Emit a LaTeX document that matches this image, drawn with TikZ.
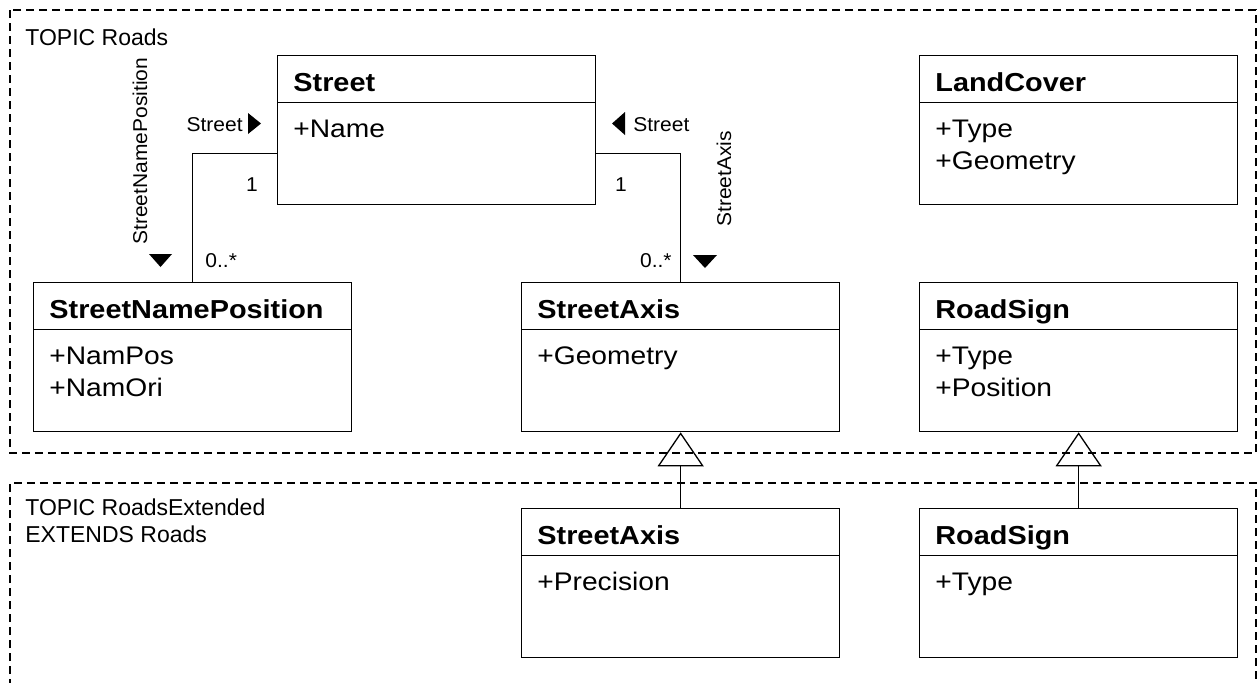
\documentclass[tikz,border=0pt]{standalone}
\usepackage{fontspec}
\setmainfont{Liberation Sans}
\newfontfamily\clsfont{Liberation Sans}[FakeStretch=1.11]
\newfontfamily\rolefont{Liberation Sans}[FakeStretch=1.05]
\usetikzlibrary{arrows.meta}

\begin{document}
\begin{tikzpicture}[x=0.5pt, y=-0.5pt,
		cls/.style={draw, line width=0.65pt, minimum width=159pt, minimum height=74.5pt, inner sep=0pt, anchor=north west,
			path picture={\draw[line width=0.65pt] ([yshift=-23.5pt]path picture bounding box.north west) -- ([yshift=-23.5pt]path picture bounding box.north east);}},
		title/.style={anchor=base west, inner sep=0pt, font=\clsfont\fontsize{13}{15}\selectfont\bfseries},
		attr/.style={anchor=base west, inner sep=0pt, align=left, font=\clsfont\fontsize{12.7}{16}\selectfont},
		role/.style={inner sep=0pt, font=\rolefont\fontsize{10}{12}\selectfont},
		topic/.style={anchor=base west, inner sep=0pt, align=left, font=\fontsize{11.5}{13.5}\selectfont},
		pkg/.style={draw, dash pattern=on 4pt off 2.5pt, line width=0.8pt},
		assoc/.style={line width=0.65pt},
		inherit/.style={line width=0.65pt, -{Triangle[open, length=17pt, width=23pt]}}]
	\useasboundingbox (0,0) rectangle (1260,682);
	% topics
	\draw[pkg] (10,10) rectangle (1256,453);
	\draw[pkg] (10,700) |- (1256,483) -- (1256,700);
	\node[topic] (troads) at (25,45) {TOPIC Roads};
	\node[topic] (text) at (25,542) {TOPIC RoadsExtended\\EXTENDS Roads};
	% classes
	\node[cls] (street) at (277,55) {};
	\node[cls] (lc) at (919,55) {};
	\node[cls] (snp) at (33,282) {};
	\node[cls] (sa) at (521,282) {};
	\node[cls] (rs) at (919,282) {};
	\node[cls] (sax) at (521,508) {};
	\node[cls] (rsx) at (919,508) {};
	\node[title] (street-t) at ([xshift=8pt,yshift=-18pt]street.north west) {Street};
	\node[attr] (street-a) at ([xshift=8pt,yshift=-41pt]street.north west) {+Name};
	\node[title] (lc-t) at ([xshift=8pt,yshift=-18pt]lc.north west) {LandCover};
	\node[attr] (lc-a) at ([xshift=8pt,yshift=-57pt]lc.north west) {+Type\\+Geometry};
	\node[title] (snp-t) at ([xshift=8pt,yshift=-18pt]snp.north west) {StreetNamePosition};
	\node[attr] (snp-a) at ([xshift=8pt,yshift=-57pt]snp.north west) {+NamPos\\+NamOri};
	\node[title] (sa-t) at ([xshift=8pt,yshift=-18pt]sa.north west) {StreetAxis};
	\node[attr] (sa-a) at ([xshift=8pt,yshift=-41pt]sa.north west) {+Geometry};
	\node[title] (rs-t) at ([xshift=8pt,yshift=-18pt]rs.north west) {RoadSign};
	\node[attr] (rs-a) at ([xshift=8pt,yshift=-57pt]rs.north west) {+Type\\+Position};
	\node[title] (sax-t) at ([xshift=8pt,yshift=-18pt]sax.north west) {StreetAxis};
	\node[attr] (sax-a) at ([xshift=8pt,yshift=-41pt]sax.north west) {+Precision};
	\node[title] (rsx-t) at ([xshift=8pt,yshift=-18pt]rsx.north west) {RoadSign};
	\node[attr] (rsx-a) at ([xshift=8pt,yshift=-41pt]rsx.north west) {+Type};
	% associations
	\draw[assoc] ([yshift=-11.75pt]street.west) -| (snp.north);
	\draw[assoc] ([yshift=-11.75pt]street.east) -| (sa.north);
	\node[role, anchor=base east] (l-role) at (243,131) {Street};
	\fill (248,113) -- (261,123.5) -- (248,134) -- cycle;
	\node[role, anchor=base] (l-one) at (252,191) {1};
	\node[role, anchor=base west] (l-many) at (205,267) {0..*};
	\node[role, rotate=90, anchor=base west] (l-name) at (147,245) {StreetNamePosition};
	\fill (149,254) -- (172,254) -- (160.5,267) -- cycle;
	\fill (625,112) -- (612,123.5) -- (625,135) -- cycle;
	\node[role, anchor=base west] (r-role) at (633,131) {Street};
	\node[role, anchor=base] (r-one) at (621,191) {1};
	\node[role, anchor=base east] (r-many) at (672,267) {0..*};
	\node[role, rotate=90, anchor=base west] (r-name) at (731,227) {StreetAxis};
	\fill (693,255) -- (717,255) -- (705,268) -- cycle;
	% extensions
	\draw[inherit] (sax.north) -- (sa.south);
	\draw[inherit] (rsx.north) -- (rs.south);
\end{tikzpicture}
\end{document}
